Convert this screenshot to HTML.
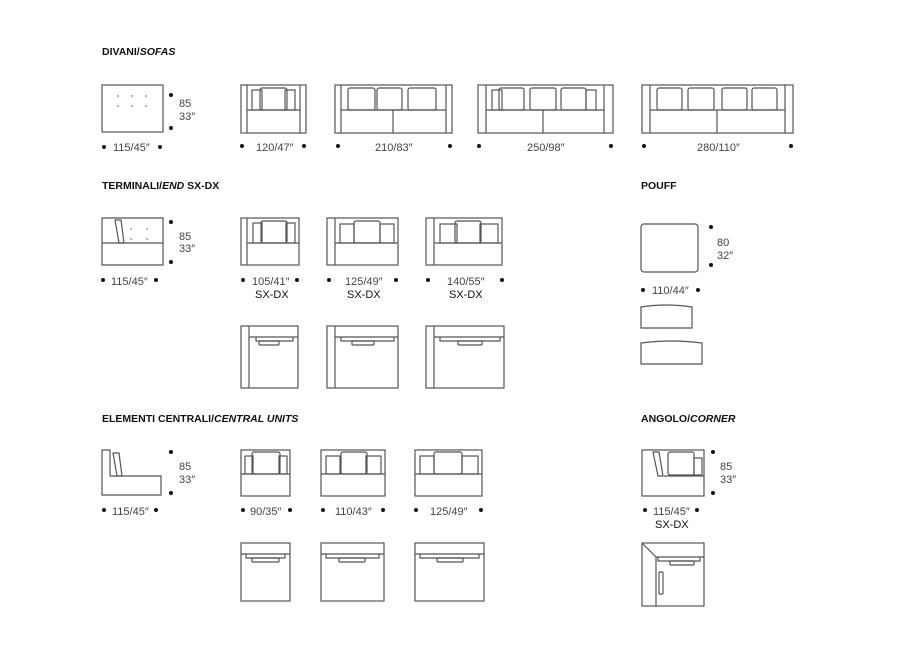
<!DOCTYPE html>
<html><head><style>
body{margin:0;background:#fff;width:900px;height:655px;overflow:hidden}
svg text{font-family:"Liberation Sans",sans-serif;fill:#333}
.h{font-weight:bold;font-size:10.5px;fill:#111}
.t{font-size:11px;fill:#444}
.s{font-size:11px;fill:#111}
</style></head><body>
<svg width="900" height="655" viewBox="0 0 900 655" xmlns="http://www.w3.org/2000/svg">
<g fill="none" stroke="#555" stroke-width="1.2">
<!-- sofas -->
<rect x="102" y="85" width="61" height="47"/>
<rect x="241" y="85" width="65" height="48"/><line x1="247" y1="85" x2="247" y2="133"/><line x1="300" y1="85" x2="300" y2="133"/><line x1="247" y1="110" x2="300" y2="110"/>
<rect x="252" y="90" width="10" height="20"/><rect x="285" y="90" width="10" height="20"/><rect x="260" y="88" width="27" height="22" rx="2"/>
<rect x="335" y="85" width="117" height="48"/><line x1="341" y1="85" x2="341" y2="133"/><line x1="446" y1="85" x2="446" y2="133"/><line x1="341" y1="110" x2="446" y2="110"/><line x1="393" y1="110" x2="393" y2="133"/>
<rect x="348" y="88" width="27" height="22" rx="2"/><rect x="377" y="88" width="25" height="22" rx="2"/><rect x="408" y="88" width="28" height="22" rx="2"/>
<rect x="478" y="85" width="135" height="48"/><line x1="486" y1="85" x2="486" y2="133"/><line x1="604" y1="85" x2="604" y2="133"/><line x1="486" y1="110" x2="604" y2="110"/><line x1="543" y1="110" x2="543" y2="133"/>
<rect x="492" y="90" width="10" height="20"/><rect x="586" y="90" width="10" height="20"/><rect x="499" y="88" width="25" height="22" rx="2"/><rect x="530" y="88" width="26" height="22" rx="2"/><rect x="561" y="88" width="25" height="22" rx="2"/>
<rect x="642" y="85" width="151" height="48"/><line x1="650" y1="85" x2="650" y2="133"/><line x1="785" y1="85" x2="785" y2="133"/><line x1="650" y1="110" x2="785" y2="110"/><line x1="717" y1="110" x2="717" y2="133"/>
<rect x="657" y="88" width="25" height="22" rx="2"/><rect x="688" y="88" width="26" height="22" rx="2"/><rect x="722" y="88" width="25" height="22" rx="2"/><rect x="752" y="88" width="25" height="22" rx="2"/>
<!-- terminali -->
<path d="M102 218H163V265H102Z M102 243H163"/><path d="M115 220L119 243H124L121 220Z"/>
<rect x="241" y="218" width="58" height="47"/><line x1="247" y1="218" x2="247" y2="265"/><line x1="247" y1="243" x2="299" y2="243"/><rect x="253" y="223" width="9" height="20"/><rect x="286" y="223" width="9" height="20"/><rect x="261" y="221" width="26" height="22" rx="2"/>
<rect x="327" y="218" width="71" height="47"/><line x1="335" y1="218" x2="335" y2="265"/><line x1="335" y1="243" x2="398" y2="243"/><rect x="340" y="224" width="14" height="19"/><rect x="380" y="224" width="14" height="19"/><rect x="354" y="221" width="26" height="22" rx="2"/>
<rect x="426" y="218" width="76" height="47"/><line x1="434" y1="218" x2="434" y2="265"/><line x1="434" y1="243" x2="502" y2="243"/><rect x="440" y="224" width="17" height="19"/><rect x="480" y="224" width="18" height="19"/><rect x="455" y="221" width="26" height="22" rx="2"/>
<rect x="241" y="326" width="57" height="62"/><line x1="249" y1="326" x2="249" y2="388"/><line x1="249" y1="337" x2="298" y2="337"/><path d="M256 337V341H293V337"/><rect x="259" y="341" width="20" height="4" rx="1"/>
<rect x="327" y="326" width="71" height="62"/><line x1="335" y1="326" x2="335" y2="388"/><line x1="335" y1="337" x2="398" y2="337"/><path d="M341 337V341H394V337"/><rect x="352" y="341" width="22" height="4" rx="1"/>
<rect x="426" y="326" width="78" height="62"/><line x1="434" y1="326" x2="434" y2="388"/><line x1="434" y1="337" x2="504" y2="337"/><path d="M440 337V341H500V337"/><rect x="458" y="341" width="24" height="4" rx="1"/>
<!-- pouff -->
<rect x="641" y="224" width="57" height="48" rx="3"/>
<path d="M641 307Q666 303 692 307V328H641Z"/><path d="M641 343Q671 339 702 343V364H641Z"/>
<!-- central -->
<path d="M102 450H110V476H161V495H102Z"/><path d="M113 453L117 476H122L119 453Z"/>
<rect x="241" y="450" width="49" height="46"/><line x1="241" y1="474" x2="290" y2="474"/><rect x="245" y="456" width="8" height="18"/><rect x="279" y="456" width="8" height="18"/><rect x="252" y="452" width="28" height="22" rx="2"/>
<rect x="321" y="450" width="64" height="46"/><line x1="321" y1="474" x2="385" y2="474"/><rect x="326" y="456" width="14" height="18"/><rect x="366" y="456" width="15" height="18"/><rect x="341" y="452" width="26" height="22" rx="2"/>
<rect x="415" y="450" width="67" height="46"/><line x1="415" y1="474" x2="482" y2="474"/><rect x="420" y="456" width="14" height="18"/><rect x="462" y="456" width="16" height="18"/><rect x="434" y="452" width="28" height="22" rx="2"/>
<rect x="241" y="543" width="49" height="58"/><line x1="241" y1="554" x2="290" y2="554"/><path d="M246 554V558H285V554"/><rect x="252" y="558" width="27" height="4" rx="1"/>
<rect x="321" y="543" width="63" height="58"/><line x1="321" y1="554" x2="384" y2="554"/><path d="M326 554V558H379V554"/><rect x="339" y="558" width="26" height="4" rx="1"/>
<rect x="415" y="543" width="69" height="58"/><line x1="415" y1="554" x2="484" y2="554"/><path d="M420 554V558H479V554"/><rect x="437" y="558" width="26" height="4" rx="1"/>
<!-- corner -->
<rect x="642" y="450" width="62" height="46"/><path d="M653 452L658 476H663L659 452Z"/><rect x="668" y="452" width="26" height="23" rx="2"/><rect x="694" y="458" width="8" height="17"/><line x1="664" y1="476" x2="704" y2="476"/>
<rect x="642" y="543" width="62" height="63"/><path d="M642 543L656 557V606 M656 557H704"/><path d="M658 557V561H700V557"/><rect x="670" y="561" width="24" height="4" rx="1"/><rect x="659" y="572" width="4" height="22" rx="1"/>
</g>
<g fill="#555">
<circle cx="118" cy="96" r="0.8"/><circle cx="132" cy="96" r="0.8"/><circle cx="146" cy="96" r="0.8"/><circle cx="118" cy="106" r="0.8"/><circle cx="132" cy="106" r="0.8"/><circle cx="146" cy="106" r="0.8"/>
<circle cx="131" cy="229" r="0.8"/><circle cx="147" cy="229" r="0.8"/><circle cx="131" cy="239" r="0.8"/><circle cx="147" cy="239" r="0.8"/>
</g>
<g fill="#111">
<circle cx="171" cy="95" r="2"/><circle cx="171" cy="128" r="2"/><circle cx="104" cy="147" r="2"/><circle cx="160" cy="147" r="2"/>
<circle cx="242" cy="146" r="2"/><circle cx="304" cy="146" r="2"/><circle cx="338" cy="146" r="2"/><circle cx="450" cy="146" r="2"/><circle cx="479" cy="146" r="2"/><circle cx="611" cy="146" r="2"/><circle cx="644" cy="146" r="2"/><circle cx="791" cy="146" r="2"/>
<circle cx="171" cy="222" r="2"/><circle cx="171" cy="262" r="2"/><circle cx="103" cy="280" r="2"/><circle cx="156" cy="280" r="2"/>
<circle cx="243" cy="280" r="2"/><circle cx="297" cy="280" r="2"/><circle cx="329" cy="280" r="2"/><circle cx="396" cy="280" r="2"/><circle cx="428" cy="280" r="2"/><circle cx="502" cy="280" r="2"/>
<circle cx="711" cy="227" r="2"/><circle cx="711" cy="265" r="2"/><circle cx="643" cy="290" r="2"/><circle cx="698" cy="290" r="2"/>
<circle cx="171" cy="452" r="2"/><circle cx="171" cy="493" r="2"/><circle cx="104" cy="510" r="2"/><circle cx="156" cy="510" r="2"/>
<circle cx="243" cy="510" r="2"/><circle cx="290" cy="510" r="2"/><circle cx="323" cy="510" r="2"/><circle cx="383" cy="510" r="2"/><circle cx="416" cy="510" r="2"/><circle cx="481" cy="510" r="2"/>
<circle cx="713" cy="452" r="2"/><circle cx="713" cy="493" r="2"/><circle cx="645" cy="510" r="2"/><circle cx="697" cy="510" r="2"/>
</g>
<text class="h" x="102" y="55">DIVANI/<tspan font-style="italic">SOFAS</tspan></text>
<text class="t" x="179" y="107">85</text><text class="t" x="179" y="120">33″</text>
<text class="t" x="113" y="151">115/45″</text>
<text class="t" x="256" y="151">120/47″</text><text class="t" x="375" y="151">210/83″</text><text class="t" x="527" y="151">250/98″</text><text class="t" x="697" y="151">280/110″</text>
<text class="h" x="102" y="189">TERMINALI/<tspan font-style="italic">END</tspan> SX-DX</text>
<text class="t" x="179" y="240">85</text><text class="t" x="179" y="252">33″</text>
<text class="t" x="111" y="285">115/45″</text>
<text class="t" x="252" y="285">105/41″</text><text class="s" x="255" y="298">SX-DX</text>
<text class="t" x="345" y="285">125/49″</text><text class="s" x="347" y="298">SX-DX</text>
<text class="t" x="447" y="285">140/55″</text><text class="s" x="449" y="298">SX-DX</text>
<text class="h" x="641" y="189">POUFF</text>
<text class="t" x="717" y="246">80</text><text class="t" x="717" y="259">32″</text>
<text class="t" x="652" y="294">110/44″</text>
<text class="h" x="102" y="422">ELEMENTI CENTRALI/<tspan font-style="italic">CENTRAL UNITS</tspan></text>
<text class="t" x="179" y="470">85</text><text class="t" x="179" y="483">33″</text>
<text class="t" x="112" y="515">115/45″</text>
<text class="t" x="250" y="515">90/35″</text><text class="t" x="335" y="515">110/43″</text><text class="t" x="430" y="515">125/49″</text>
<text class="h" x="641" y="422">ANGOLO/<tspan font-style="italic">CORNER</tspan></text>
<text class="t" x="720" y="470">85</text><text class="t" x="720" y="483">33″</text>
<text class="t" x="653" y="515">115/45″</text><text class="s" x="655" y="528">SX-DX</text>
</svg>
</body></html>
